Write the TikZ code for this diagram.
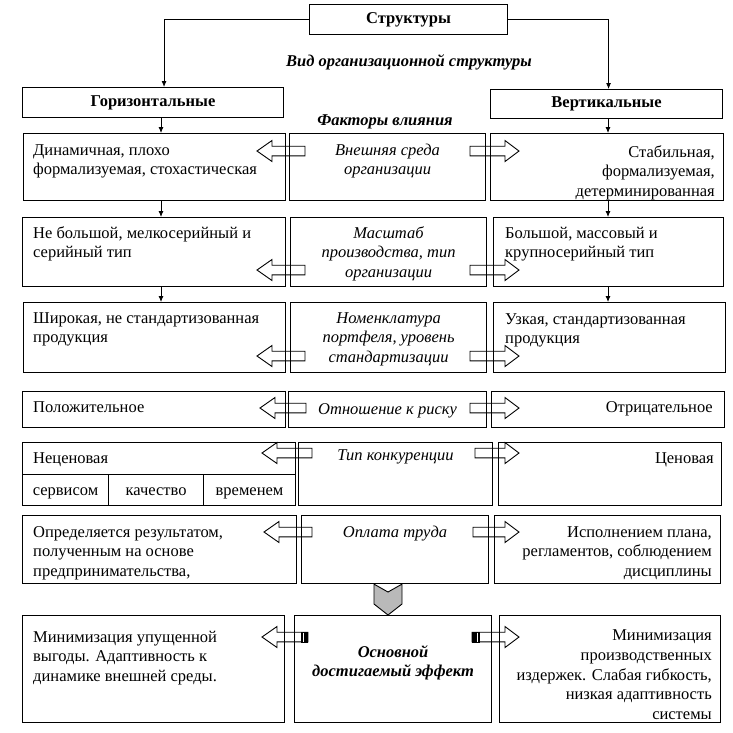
\documentclass[tikz,border=0pt]{standalone}
\usepackage{fontspec}
\setmainfont{Liberation Serif}
\usetikzlibrary{arrows.meta,calc}
\newcommand{\bx}[5]{\node[box, minimum width={#4pt-#2pt}, minimum height={#5pt-#3pt}] (#1) at (#2,#3) {};}
% left block arrow: y, tail x, tip x
\newcommand{\blkL}[3]{\draw[blk] (#2,#1-4.8) -- (#3+15,#1-4.8) -- (#3+15,#1-10.5) -- (#3,#1) -- (#3+15,#1+10.5) -- (#3+15,#1+4.8) -- (#2,#1+4.8) -- cycle;}
\newcommand{\blkR}[3]{\draw[blk] (#2,#1-4.8) -- (#3-14,#1-4.8) -- (#3-14,#1-10.5) -- (#3,#1) -- (#3-14,#1+10.5) -- (#3-14,#1+4.8) -- (#2,#1+4.8) -- cycle;}
\begin{document}
\begin{tikzpicture}[x=1pt,y=-1pt,
  box/.style={draw, line width=1.1pt, inner sep=0pt, anchor=north west},
  txt/.style={inner sep=0pt, font=\fontsize{16.5}{19.7}\selectfont},
  lt/.style={txt, anchor=base west, align=left},
  rt/.style={txt, anchor=base east, align=right},
  mt/.style={txt, anchor=base, align=center, font=\fontsize{16.5}{19.7}\selectfont\itshape},
  ttl/.style={inner sep=0pt, font=\fontsize{16.5}{19.7}\selectfont\bfseries},
  hdr/.style={inner sep=0pt, font=\fontsize{16.5}{19.7}\selectfont\bfseries\itshape},
  arr/.style={-{Latex[length=6pt,width=5pt]}, line width=0.8pt},
  blk/.style={draw, line width=0.9pt, fill=white, line join=miter},
]
\useasboundingbox (0,0) rectangle (733,732);

% block arrows (drawn first so box borders pass over them)
\blkL{151}{305}{257} \blkR{151}{470}{519}
\blkL{270}{305}{257} \blkR{270}{470}{519}
\blkL{356}{305}{257} \blkR{356}{470}{519}
\blkL{408}{306}{260} \blkR{408}{470}{519}
\blkL{453}{312}{262} \blkR{453}{475}{519}
\blkL{532}{312}{264} \blkR{532}{473}{519}
\blkL{637}{308}{262} \blkR{637}{472}{519}
\fill[black] (301,631.5) rectangle (308,642.5);
\fill[black] (472,631.5) rectangle (480,642.5);
\draw[white, line width=0.8pt] (303.5,632.5) -- (303.5,641.5);
\draw[white, line width=0.8pt] (477.5,632.5) -- (477.5,641.5);

% boxes
\bx{s}{309}{4}{507}{34}
\bx{h}{22}{87}{283}{117}
\bx{v}{490}{89}{722}{118}

\bx{l1}{23}{133}{285}{200} \bx{m1}{289}{133}{485}{200} \bx{r1}{490}{133}{723}{200}
\bx{l2}{22}{217}{285}{286} \bx{m2}{290}{217}{486}{286} \bx{r2}{493}{217}{723}{286}
\bx{l3}{23}{302}{285}{372} \bx{m3}{290}{302}{486}{372} \bx{r3}{493}{302}{725}{372}
\bx{l4}{22}{391}{285}{427} \bx{m4}{288}{391}{486}{427} \bx{r4}{491}{391}{724}{427}
\bx{l5}{22}{442}{295}{474} \bx{m5}{298}{442}{492}{505} \bx{r5}{498}{442}{721}{505}
\bx{c1}{22}{474}{108}{505} \bx{c2}{108}{474}{203}{505} \bx{c3}{203}{474}{295}{505}
\bx{l6}{22}{515}{296}{583} \bx{m6}{301}{515}{488}{583} \bx{r6}{494}{515}{720}{583}
\bx{l7}{22}{615}{284}{722} \bx{m7}{294}{615}{491}{722} \bx{r7}{499}{615}{720}{722}

% gray chevron between m6 and m7
\draw[line width=0.9pt, fill=gray!55] (m6.south -| 374,0) -- (388,592) -- (m6.south -| 402,0) -- (402,604) -- (m7.north -| 388,0) -- (374,604) -- cycle;

% titles
\node[ttl] (ts) at (s.center) {Структуры};
\node[ttl] (th) at (h.center) {Горизонтальные};
\node[ttl] (tv) at (v.center) {Вертикальные};
\node[hdr] (vid) at (409,62) {Вид организационной структуры};
\node[hdr] (fak) at (385,122) {Факторы влияния};

% connectors
\coordinate (lx) at (161,0);
\coordinate (rx) at (608,0);
\draw[arr] (s.west) -| ([xshift=11pt]h.north);
\draw[arr] (s.east) -| ([xshift=2pt]v.north);
\draw[arr] (h.south -| lx) -- (l1.north -| lx);
\draw[arr] (l1.south -| lx) -- (l2.north -| lx);
\draw[arr] (l2.south -| lx) -- (l3.north -| lx);
\draw[arr] (v.south -| rx) -- (r1.north -| rx);
\draw[arr] (r1.south -| rx) -- (r2.north -| rx);
\draw[arr] (r2.south -| rx) -- (r3.north -| rx);

% middle texts (multi-line nodes: base = last line)
\node[mt] (tm1) at (m1.north |- 0,174.7) {Внешняя среда\\организации};
\node[mt] (tm2) at (m2.north |- 0,277.4) {Масштаб\\производства, тип\\организации};
\node[mt] (tm3) at (m3.north |- 0,362.4) {Номенклатура\\портфеля, уровень\\стандартизации};
\node[mt] (tm4) at (m4.north |- 0,414) {Отношение к риску};
\node[mt] (tm5) at (m5.north |- 0,460) {Тип конкуренции};
\node[mt] (tm6) at (m6.north |- 0,537) {Оплата труда};
\node[mt, font=\fontsize{16.5}{19.7}\selectfont\bfseries\itshape] (tm7) at (m7.north |- 0,676.7) {Основной\\достигаемый эффект};

% left texts
\node[lt] (tl1) at (33,174.7) {Динамичная, плохо\\формализуемая, стохастическая};
\node[lt] (tl2) at (33,257.7) {Не большой, мелкосерийный и\\серийный тип};
\node[lt] (tl3) at (33,342.7) {Широкая, не стандартизованная\\продукция};
\node[lt] (tl4) at (33,412) {Положительное};
\node[lt] (tl5) at (33,463) {Неценовая};
\node[txt, anchor=base] (tc1) at (c1.south |- 0,495) {сервисом};
\node[txt, anchor=base] (tc2) at (c2.south |- 0,495) {качество};
\node[txt, anchor=base] (tc3) at (c3.south |- 0,495) {временем};
\node[lt] (tl6) at (33,576.4) {Определяется результатом,\\полученным на основе\\предпринимательства,};
\node[lt] (tl7) at (33,681.4) {Минимизация упущенной\\выгоды. Адаптивность к\\динамике внешней среды.};

% right texts
\node[rt] (tr1) at (715,196.4) {Стабильная,\\формализуемая,\\детерминированная};
\node[lt] (tr2) at (505,257.7) {Большой, массовый и\\крупносерийный тип};
\node[lt] (tr3) at (505,343.7) {Узкая, стандартизованная\\продукция};
\node[rt] (tr4) at (713,412) {Отрицательное};
\node[rt] (tr5) at (714,463) {Ценовая};
\node[rt] (tr6) at (712,576.4) {Исполнением плана,\\регламентов, соблюдением\\дисциплины};
\node[rt] (tr7) at (712,719.5) {Минимизация\\производственных\\издержек. Слабая гибкость,\\низкая адаптивность\\системы};
\end{tikzpicture}
\end{document}
